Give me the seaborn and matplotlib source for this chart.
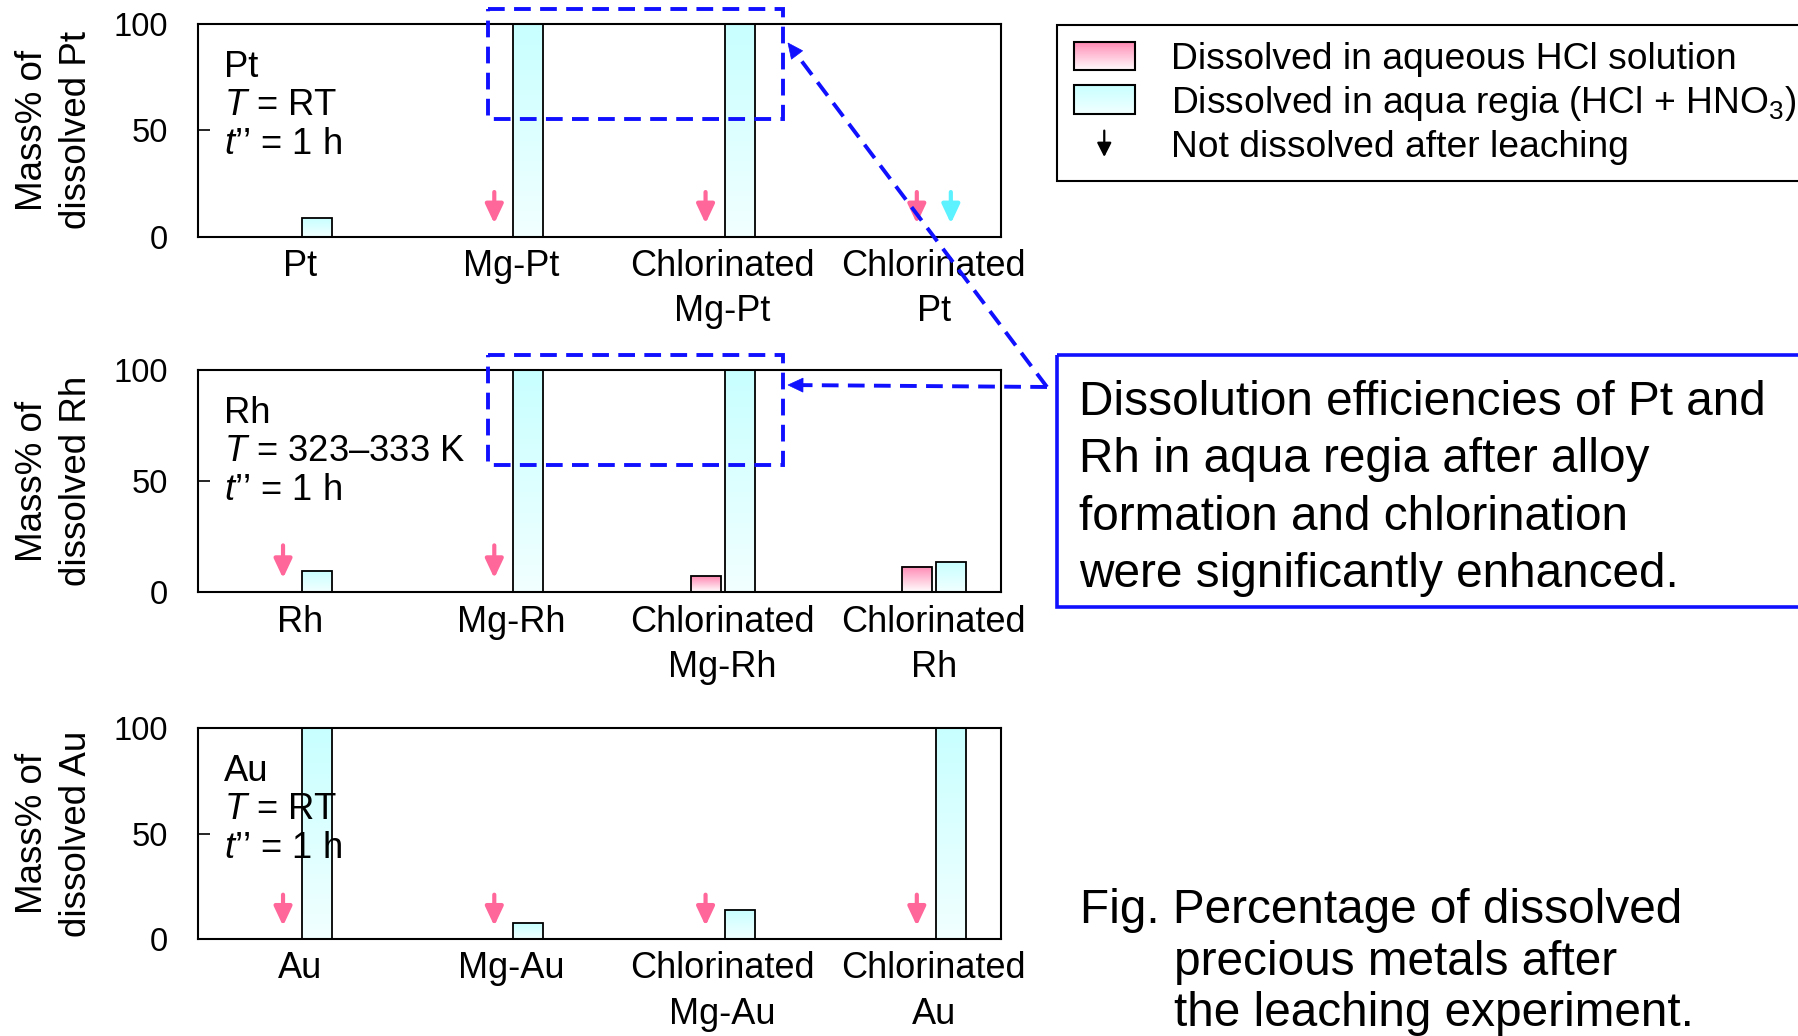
import numpy as np
import pandas as pd
import matplotlib
matplotlib.use("Agg")
import matplotlib.pyplot as plt
import seaborn as sns
from matplotlib.patches import Rectangle, Patch, Polygon, FancyArrowPatch
from matplotlib.legend_handler import HandlerBase
from matplotlib.colors import LinearSegmentedColormap, to_rgb

nan = np.nan

# ---------------- data ----------------
pt_samples = ["Pt", "Mg-Pt", "Chlorinated\nMg-Pt", "Chlorinated\nPt"]
rh_samples = ["Rh", "Mg-Rh", "Chlorinated\nMg-Rh", "Chlorinated\nRh"]
au_samples = ["Au", "Mg-Au", "Chlorinated\nMg-Au", "Chlorinated\nAu"]

# mass% dissolved in aqueous HCl solution (nan = no bar)
pt_hcl = [nan, nan, nan, nan]
rh_hcl = [nan, nan, 7.2, 11.3]
au_hcl = [nan, nan, nan, nan]
# "not dissolved after leaching" flags for HCl
pt_hcl_nd = [False, True, True, True]
rh_hcl_nd = [True, True, False, False]
au_hcl_nd = [True, True, True, True]

# mass% dissolved in aqua regia
pt_aqua = [8.9, 100, 100, nan]
rh_aqua = [9.5, 100, 100, 13.5]
au_aqua = [100, 7.4, 13.8, 100]
pt_aqua_nd = [False, False, False, True]
rh_aqua_nd = [False, False, False, False]
au_aqua_nd = [False, False, False, False]

metals = ["Pt", "Rh", "Au"]
conditions_T = ["RT", "323\u2013333 K", "RT"]

yticks = [0, 50, 100]
series_names = ["HCl", "aqua"]
legend_labels = ["Dissolved in aqueous HCl solution",
                 "Dissolved in aqua regia (HCl + ${\\rm HNO}_3$)",
                 "Not dissolved after leaching"]

# ---------------- style ----------------
sns.set_style("white")
plt.rcParams["font.family"] = ["Liberation Sans", "DejaVu Sans"]
plt.rcParams["mathtext.fontset"] = "custom"
plt.rcParams["mathtext.rm"] = "Liberation Sans"
plt.rcParams["mathtext.it"] = "Liberation Sans:italic"
plt.rcParams["mathtext.bf"] = "Liberation Sans:bold"
for key in ["text.color", "axes.labelcolor", "xtick.color", "ytick.color",
            "axes.edgecolor"]:
    plt.rcParams[key] = "black"

W, H = 1798, 1036
fig = plt.figure(figsize=(W / 100, H / 100), dpi=100)

PINK_TOP, PINK_BOT = "#ff88b2", "#ffffff"
CYAN_TOP, CYAN_BOT = "#c8ffff", "#f2ffff"
PINK_ARROW = "#ff6699"
CYAN_ARROW = "#5cf2ff"
BLUE = "#1010ff"

axes_px = [(24, 236.7), (370, 592), (728, 939)]
left_px, right_px = 198, 1001
DODGE_W = 0.322

panel_data = [
    (pt_samples, pt_hcl, pt_aqua, pt_hcl_nd, pt_aqua_nd),
    (rh_samples, rh_hcl, rh_aqua, rh_hcl_nd, rh_aqua_nd),
    (au_samples, au_hcl, au_aqua, au_hcl_nd, au_aqua_nd),
]

ARROW_STYLE = "-|>,head_length=11.5,head_width=5.4"

for k, (samples, hcl, aqua, hcl_nd, aqua_nd) in enumerate(panel_data):
    top, bot = axes_px[k]
    ax = fig.add_axes([left_px / W, 1 - bot / H, (right_px - left_px) / W, (bot - top) / H])
    df = pd.DataFrame({
        "sample": samples * 2,
        "value": list(hcl) + list(aqua),
        "solution": [series_names[0]] * len(samples) + [series_names[1]] * len(samples),
    })
    sns.barplot(data=df, x="sample", y="value", hue="solution", order=samples,
                hue_order=series_names,
                palette={series_names[0]: PINK_TOP, series_names[1]: CYAN_TOP},
                width=DODGE_W, gap=0.12, dodge=True, saturation=1, errorbar=None,
                edgecolor="black", linewidth=1.3, legend=False, ax=ax)

    # gradient fills
    for bar in list(ax.patches):
        h = bar.get_height()
        if not np.isfinite(h) or h <= 0:
            continue
        x0, w = bar.get_x(), bar.get_width()
        cx = x0 + w / 2
        is_pink = cx < round(cx)
        c_top, c_bot = (PINK_TOP, PINK_BOT) if is_pink else (CYAN_TOP, CYAN_BOT)
        cmap = LinearSegmentedColormap.from_list("g", [c_bot, c_top])
        grad = np.linspace(0, 1, 256)[:, None]
        ax.imshow(grad, cmap=cmap, extent=[x0, x0 + w, bar.get_y(), bar.get_y() + h],
                  origin="lower", aspect="auto", zorder=bar.get_zorder() - 0.05,
                  interpolation="bilinear")
        bar.set_facecolor("none")

    # "not dissolved" arrows
    offs = {0: -DODGE_W / 4, 1: DODGE_W / 4}
    for i in range(len(samples)):
        for s, flags, col in ((0, hcl_nd, PINK_ARROW), (1, aqua_nd, CYAN_ARROW)):
            if flags[i]:
                xp = i + offs[s]
                ax.annotate("", xy=(xp, 6.2), xytext=(xp, 21),
                            arrowprops=dict(arrowstyle=ARROW_STYLE, mutation_scale=1,
                                            color=col, lw=3, shrinkA=0, shrinkB=0))

    ax.set_xlim(-0.483, 3.318)
    ax.set_ylim(0, 100)
    ax.set_yticks(yticks)
    ax.set_xlabel("")
    ax.set_ylabel("Mass% of\ndissolved " + metals[k], fontsize=26.5, va="center",
                  ha="center", linespacing=1.32)
    ax.yaxis.set_label_coords(-0.1787, 0.5)
    ax.tick_params(axis="y", direction="in", length=8.4, width=1.2, pad=21.6,
                   labelsize=23.5, left=True)
    ax.tick_params(axis="x", length=0, pad=9, labelsize=26)
    for lab in ax.get_xticklabels():
        lab.set_linespacing(1.38)
    for sp in ax.spines.values():
        sp.set_visible(True)
        sp.set_color("black")
        sp.set_linewidth(1.5)

    # condition text
    lines = [metals[k], "$T$ = " + conditions_T[k], "$t$\u2019\u2019 = 1 h"]
    for j, (txt, dy) in enumerate(zip(lines, [38.5, 65.5, 93.5])):
        ax.annotate(txt, xy=(0, 1), xycoords="axes fraction", xytext=(18.7, -dy),
                    textcoords="offset points", va="baseline", ha="left",
                    fontsize=26.2, zorder=20)

# ---------------- legend ----------------
class GradHandler(HandlerBase):
    def __init__(self, c_top, c_bot):
        super().__init__()
        self.c_top = np.array(to_rgb(c_top))
        self.c_bot = np.array(to_rgb(c_bot))

    def create_artists(self, legend, orig_handle, xdescent, ydescent, width, height,
                       fontsize, trans):
        arts = []
        n = 30
        x0, y0 = -xdescent, -ydescent
        for i in range(n):
            f = (i + 0.5) / n
            c = self.c_bot * (1 - f) + self.c_top * f
            arts.append(Rectangle((x0, y0 + height * i / n), width, height / n + 0.05,
                                  facecolor=c, edgecolor="none", lw=0, transform=trans))
        arts.append(Rectangle((x0, y0), width, height, facecolor="none",
                              edgecolor="black", lw=1.5, transform=trans))
        return arts


class ArrowHandler(HandlerBase):
    def create_artists(self, legend, orig_handle, xdescent, ydescent, width, height,
                       fontsize, trans):
        cx = -xdescent + width / 2
        cy = -ydescent + height / 2
        a = FancyArrowPatch((cx, cy + 9.5), (cx, cy - 9.5),
                            arrowstyle="-|>,head_length=8.5,head_width=4.3",
                            mutation_scale=1, color="black", lw=1.6,
                            shrinkA=0, shrinkB=0, transform=trans)
        return [a]


h_pink = Patch()
h_cyan = Patch()
h_arrow = Patch()
leg = fig.legend([h_pink, h_cyan, h_arrow], legend_labels,
                 handler_map={h_pink: GradHandler(PINK_TOP, PINK_BOT),
                              h_cyan: GradHandler(CYAN_TOP, CYAN_BOT),
                              h_arrow: ArrowHandler()},
                 loc="upper left", bbox_to_anchor=(1057 / W, 1 - 25 / H),
                 bbox_transform=fig.transFigure, borderaxespad=0,
                 fontsize=26.8, handlelength=1.64, handleheight=0.81,
                 handletextpad=0.97, labelspacing=0.18, borderpad=0.45,
                 fancybox=False, framealpha=1, edgecolor="black")
leg.get_frame().set_linewidth(1.5)

# ---------------- overlay annotations (figure pixel space) ----------------
ov = fig.add_axes([0, 0, 1, 1], zorder=10)
ov.set_xlim(0, W)
ov.set_ylim(H, 0)
ov.axis("off")

DASH = (0, (4.3, 2.4))
for (rx, ry, rw, rh) in [(488, 9, 295, 110), (488, 355, 295, 110)]:
    ov.add_patch(Rectangle((rx, ry), rw, rh, fill=False, ec=BLUE, lw=2.8, ls=DASH))


def dashed_arrow(tail, tip, length=15, width=14):
    tip = np.array(tip, float)
    tail = np.array(tail, float)
    d = tip - tail
    d /= np.linalg.norm(d)
    nrm = np.array([-d[1], d[0]])
    base = tip - d * length
    ov.add_patch(Polygon([tip, base + nrm * width / 2, base - nrm * width / 2],
                         closed=True, facecolor=BLUE, edgecolor=BLUE, lw=0.5))
    ov.plot([tail[0], base[0]], [tail[1], base[1]], color=BLUE, lw=2.8, ls=DASH,
            dash_capstyle="butt")


dashed_arrow((1047, 387), (788, 43))
dashed_arrow((1047, 387), (788, 385))

# message box
ov.add_patch(Rectangle((1057, 355), 800, 252, fill=False, ec=BLUE, lw=2.6))
msg = ["Dissolution efficiencies of Pt and",
       "Rh in aqua regia after alloy",
       "formation and chlorination",
       "were significantly enhanced."]
for j, t in enumerate(msg):
    ov.text(1079, 415 + 57.3 * j, t, fontsize=34.4, va="baseline", ha="left")

# caption
ov.text(1080, 923, "Fig. Percentage of dissolved", fontsize=34.4, va="baseline", ha="left")
ov.text(1174, 975, "precious metals after", fontsize=34.4, va="baseline", ha="left")
ov.text(1174, 1026, "the leaching experiment.", fontsize=34.4, va="baseline", ha="left")

fig.savefig("out.png", dpi=100)
